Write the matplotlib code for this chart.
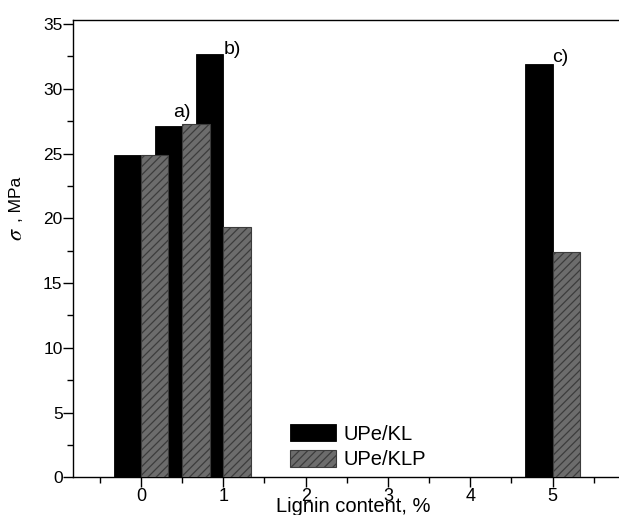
import matplotlib
matplotlib.use('Agg')
import matplotlib.pyplot as plt
from matplotlib.ticker import MultipleLocator
import numpy as np

# data
lignin = [0, 0.5, 1, 5]
upe_kl = [24.9, 27.1, 32.7, 31.9]
upe_klp = [24.9, 27.3, 19.3, 17.4]
tick_labels = ['0', '1', '2', '3', '4', '5']
notes = ['a)', 'b)', 'c)']
note_x = [0.39, 1.0, 5.0]
note_y = [27.85, 32.7, 32.1]

plt.rcParams['font.family'] = 'Liberation Sans'
plt.rcParams['mathtext.fontset'] = 'stix'
plt.rcParams['hatch.linewidth'] = 0.9

f = plt.figure(figsize=(6.19, 5.15), dpi=100)
ax = f.add_axes([0.1175, 0.0732, 0.8855, 0.888])

w = 1.0 / 3
x = np.array(lignin)
ax.bar(x - w / 2, upe_kl, w, color='black', edgecolor='black',
       linewidth=0.6, label='UPe/KL', zorder=2)
ax.bar(x + w / 2, upe_klp, w, color='#6c6c6c', edgecolor='#3c3c3c',
       hatch='////', linewidth=0.8, label='UPe/KLP', zorder=3)

for t, tx, ty in zip(notes, note_x, note_y):
    ax.text(tx, ty, t, fontsize=14, ha='left', va='baseline', zorder=4)

ax.set_xlim(-0.83, 5.83)
ax.set_ylim(0, 35.31)
ax.set_xticks(range(len(tick_labels)))
ax.set_xticklabels(tick_labels)
ax.xaxis.set_minor_locator(MultipleLocator(0.5))
ax.yaxis.set_major_locator(MultipleLocator(5))
ax.yaxis.set_minor_locator(MultipleLocator(2.5))
ax.tick_params(which='major', direction='out', length=7, width=1)
ax.tick_params(which='minor', direction='out', length=4, width=1)
ax.tick_params(axis='x', which='major', labelsize=13, pad=1)
ax.tick_params(axis='y', which='major', labelsize=12.5, pad=0.3)
ax.tick_params(top=False, right=False, which='both')
for s in ax.spines.values():
    s.set_linewidth(1.0)

ax.set_xlabel('Lignin content, %', fontsize=14.5)
ax.xaxis.set_label_coords(0.512, -0.042)

# y label: sigma drawn a little larger than the rest, as in the source
f.text(16.5 / 619, 1 - 199 / 515, ', MPa', rotation=90, fontsize=12.5,
       ha='center', va='center')
f.text(17 / 619, 1 - 234 / 515, r'$\sigma$', rotation=90, fontsize=16,
       ha='center', va='center')

ax.legend(loc='lower left', bbox_to_anchor=(0.396, 0.018), frameon=False,
          fontsize=14.5, handlelength=2.3, handleheight=0.92,
          handletextpad=0.35, labelspacing=0.3, borderpad=0,
          borderaxespad=0)

f.savefig('out.png', dpi=100)
